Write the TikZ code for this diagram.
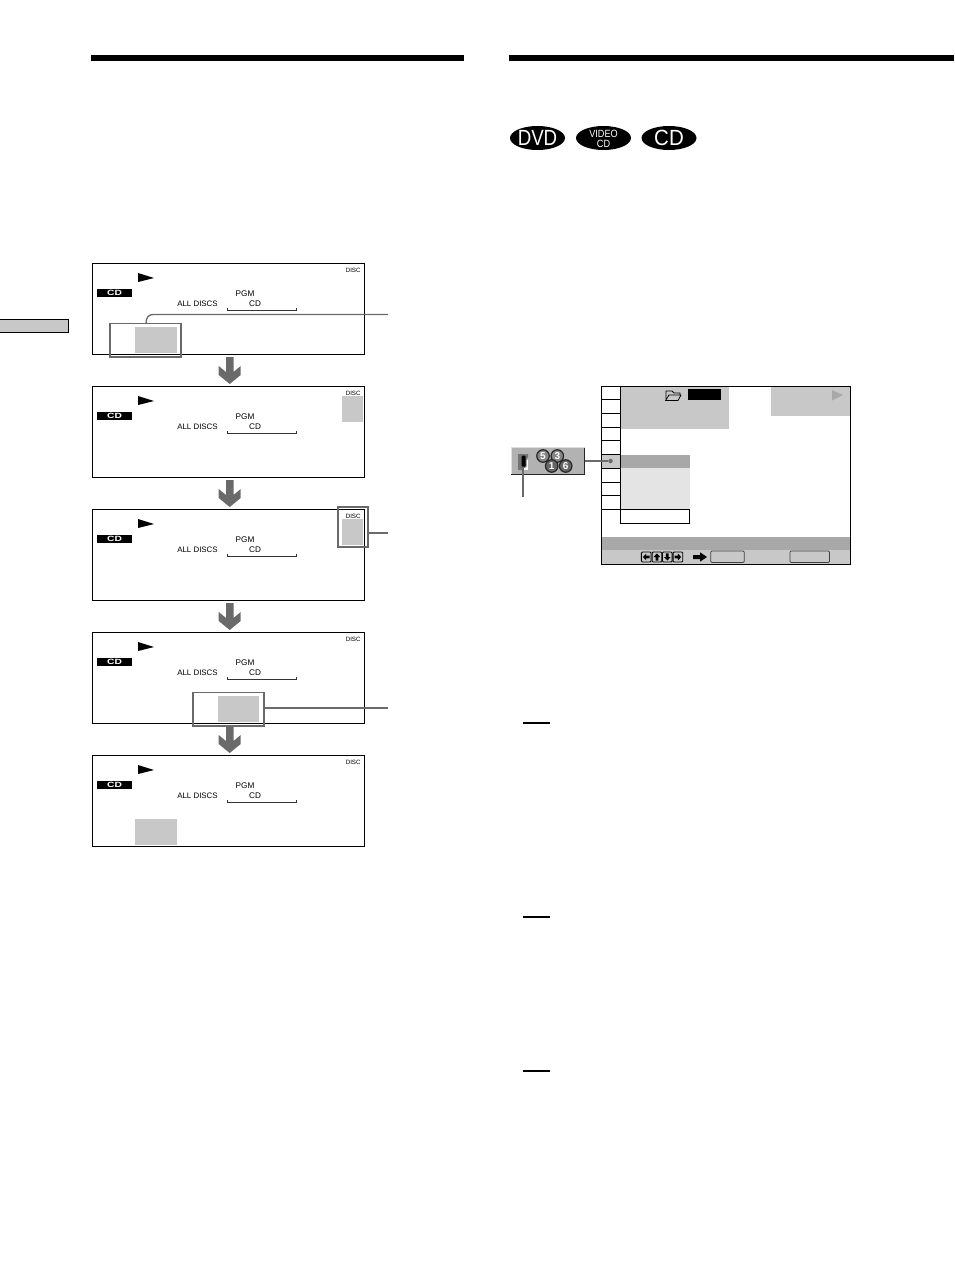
\documentclass[tikz,border=0pt]{standalone}
\usepackage{graphicx}
\usepackage{fontspec}
\setmainfont{Liberation Sans}
\usetikzlibrary{shapes.geometric}
\definecolor{panelgray}{HTML}{C8C8C8}
\definecolor{midgray}{HTML}{A8A8A8}
\definecolor{palegray}{HTML}{E4E4E4}
\definecolor{linegray}{HTML}{6A6A6A}
\tikzset{
  x=1pt,y=-1pt,
  every node/.style={inner sep=0,outer sep=0},
  panelbox/.style={draw=black,line width=1.05pt,fill=white,rectangle,minimum width=272pt,minimum height=91pt,anchor=north west},
  callout/.style={draw=linegray,line width=1.3pt},
  flowarrow/.style={fill=linegray,draw=none},
  badge/.style={fill=black,text=white,ellipse,minimum width=55pt,minimum height=24pt},
  rowline/.style={draw=black,line width=1pt},
  keyicon/.style={draw=black,line width=0.9pt,fill=panelgray,rounded corners=1pt,minimum width=9.6pt,minimum height=10pt},
  softbutton/.style={draw=black!75,line width=0.7pt,fill=panelgray,rounded corners=1.2pt,anchor=north west},
  discicon/.style={circle,draw=black!85,line width=1.2pt,fill=black!48,text=white,minimum size=12.5pt,font=\fontsize{10}{10}\selectfont\bfseries},
  paneltext/.style={font=\fontsize{8.2}{9}\selectfont,text=black},
}
\newcommand{\badgetext}[3]{\makebox[0pt]{\smash{\raisebox{#1}{\scalebox{#2}[1]{#3}}}}}
\newcommand{\panelunit}[2]{%
  \node[panelbox] (#1) at (92.5,#2) {};
  \fill[black] (138,#2+9.5) -- (154,#2+14.5) -- (138,#2+18.5) -- cycle;
  \node[fill=black,text=white,minimum width=35pt,minimum height=8pt,font=\fontsize{7.6}{8}\selectfont\bfseries] (#1cd) at (114.5,#2+29.5) {\scalebox{1.35}[1]{CD}};
  \node[paneltext] (#1pgm) at (245,#2+30.5) {PGM};
  \node[paneltext,font=\fontsize{7.9}{9}\selectfont] (#1all) at (197.5,#2+40.5) {ALL DISCS};
  \node[paneltext] (#1sub) at (255,#2+40.5) {CD};
  \draw[black!80,line width=0.8pt] (227.7,#2+44.5) -- (227.7,#2+47) -- (296.7,#2+47) -- (296.7,#2+44.5);
}
\newcommand{\downflow}[1]{%
  \fill[flowarrow] (226,#1) -- (233.5,#1) -- (233.5,#1+15) -- (240.7,#1+9) -- (240.7,#1+18) -- (229.7,#1+27) -- (218.7,#1+18) -- (218.7,#1+9) -- (226,#1+15) -- cycle;
}
\begin{document}
\begin{tikzpicture}
\useasboundingbox (0,0) rectangle (954,1273);
\fill[white] (0,0) rectangle (954,1273);
% top rules
\fill[black] (91,55) rectangle (464,61);
\fill[black] (509,55) rectangle (954,61);
% side tab
\draw[black,line width=1pt,fill=panelgray] (-2,319.3) rectangle (68.3,332.7);
% disc badges
\node[badge,font=\fontsize{22}{22}\selectfont] (dvd) at (537.5,138) {\badgetext{-8pt}{0.85}{DVD}};
\node[badge,font=\fontsize{10.5}{10}\selectfont] (vcd) at (603.5,138) {\makebox[0pt]{\smash{\raisebox{-9.5pt}{\scalebox{0.87}[1]{\shortstack[c]{VIDEO\\[-0.6pt]CD}}}}}};
\node[badge,font=\fontsize{22}{22}\selectfont] (cd) at (669,138) {\badgetext{-8pt}{0.93}{CD}};
% panels
\panelunit{pa}{263.5}
\panelunit{pb}{386.5}
\panelunit{pc}{509.5}
\panelunit{pd}{632.5}
\panelunit{pe}{755.5}
% gray cursor areas
\fill[panelgray] (135,327) rectangle (177,353);
\fill[panelgray] (342,396) rectangle (363,422);
\fill[panelgray] (342,519) rectangle (363,545);
\fill[panelgray] (218,696) rectangle (259,722);
\fill[panelgray] (135,819) rectangle (177,845);
% DISC labels
\foreach \n/\y in {a/270.4,b/393.4,c/516.4,d/639.4,e/762.4}
  \node[font=\fontsize{6.2}{6}\selectfont,text=black] (disc\n) at (353.2,\y) {DISC};
% flow arrows
\downflow{357}
\downflow{480}
\downflow{603}
\downflow{726}
% callouts
\node[callout,rectangle,minimum width=71pt,minimum height=33.5pt,anchor=north west] (boxa) at (110,323.5) {};
\coordinate (enda) at (388,314.5);
\draw[callout] (146,323.5) .. controls (146,317) and (149,314.5) .. (153,314.5) -- (enda);
\node[callout,rectangle,minimum width=30pt,minimum height=40pt,anchor=north west] (boxc) at (338,507) {};
\coordinate (endc) at (388,533);
\draw[callout] (boxc.east |- endc) -- (endc);
\node[callout,rectangle,minimum width=71pt,minimum height=33.5pt,anchor=north west] (boxd) at (193,692.5) {};
\coordinate (endd) at (388,708);
\draw[callout] (boxd.east |- endd) -- (endd);
% note rules
\foreach \y in {723,917,1071}
  \draw[black,line width=1.1pt] (523,\y) -- (550,\y);
% menu screen
\node[rectangle,fill=white,minimum width=249pt,minimum height=178pt,anchor=north west] (screen) at (601.5,386.5) {};
\fill[panelgray] (620.7,387) rectangle (729,429);
\fill[panelgray] (771,387) rectangle (850,415.7);
\fill[midgray] (832,390) -- (843,395) -- (832,400.5) -- cycle;
\draw[black,line width=0.8pt,line join=round] (666,399) -- (666,391) -- (672,391) -- (674,393) -- (680,393) -- (680,395);
\draw[black,line width=0.8pt,line join=round] (665.5,400.5) -- (669,395) -- (681,395) -- (678,400.5) -- cycle;
\fill[black] (688,389) rectangle (721,400);
\fill[panelgray] (601.7,454.7) rectangle (620.7,468.3);
\fill[midgray] (620.7,455) rectangle (690,468.3);
\fill[palegray] (620.7,468.3) rectangle (690,509.3);
\fill[midgray] (602,537) rectangle (850,550);
\fill[panelgray] (602,550) rectangle (850,564);
\foreach \y in {399.3,413.3,427.3,440.7,454.7,468.3,482.3,495.7,509.3}
  \draw[rowline] (601.5,\y) -- (620.7,\y);
\draw[rowline] (620.7,386.5) -- (620.7,509.3);
\node[rectangle,draw=black,line width=1pt,minimum width=69pt,minimum height=14.2pt,anchor=north west] (extrabox) at (620.7,509.3) {};
\draw[black,line width=1.05pt] (screen.north west) rectangle (screen.south east);
% remote keys
\foreach \n/\x in {kl/646.2,ku/656.9,kd/667.3,kr/677.9}
  \node[keyicon] (\n) at (\x,557) {};
\fill[black] (642.9,557) -- (646.2,553.6) -- (646.2,555.6) -- (649.5,555.6) -- (649.5,558.4) -- (646.2,558.4) -- (646.2,560.4) -- cycle;
\fill[black] (656.9,553.4) -- (660.2,557) -- (658.3,557) -- (658.3,560.6) -- (655.5,560.6) -- (655.5,557) -- (653.6,557) -- cycle;
\fill[black] (667.3,560.6) -- (670.6,557) -- (668.7,557) -- (668.7,553.4) -- (665.9,553.4) -- (665.9,557) -- (664,557) -- cycle;
\fill[black] (681.2,557) -- (677.9,553.6) -- (677.9,555.6) -- (674.6,555.6) -- (674.6,558.4) -- (677.9,558.4) -- (677.9,560.4) -- cycle;
\fill[black] (693,555) -- (700,555) -- (700,552.3) -- (707,557) -- (700,561.7) -- (700,559) -- (693,559) -- cycle;
\node[softbutton,minimum width=33.5pt,minimum height=11.5pt] (enter) at (710.7,551) {};
\node[softbutton,minimum width=39.5pt,minimum height=11.5pt] (retn) at (790,551) {};
% control bar
\node[rectangle,fill=midgray!70!panelgray,minimum width=73.4pt,minimum height=27pt,anchor=north west] (bar) at (511.3,447.7) {};
\draw[white!75!gray,line width=1.2pt] (bar.south west) -- (bar.north west) -- (bar.north east);
\draw[black!85,line width=1.1pt] (bar.north east) -- (bar.south east) -- (bar.south west);
\fill[white] (520,460) rectangle (528,470);
\fill[black!55] (518,454) -- (528,454) -- (528,458) -- (526.5,458) -- (526.5,467) -- (522,469) -- (522,470) -- (518,470) -- cycle;
\node[fill=black,rectangle,rounded corners=1pt,minimum width=4pt,minimum height=11pt] (slider) at (523.6,461.2) {};
\node[discicon] (d5) at (543,456) {5};
\node[discicon] (d3) at (557.3,456) {3};
\node[discicon,fill=black!60] (d6) at (565.7,466) {6};
\node[discicon,fill=black!60] (d1) at (551.7,466) {1};
% connectors
\node[circle,fill=linegray,minimum size=4.5pt] (dot) at (610.5,461) {};
\draw[draw=linegray,line width=1.2pt] (bar.east |- dot) -- (dot);
\coordinate (sliderend) at (522.6,497);
\draw[draw=linegray,line width=1.8pt] (slider.south -| sliderend) -- (sliderend);
\end{tikzpicture}
\end{document}
